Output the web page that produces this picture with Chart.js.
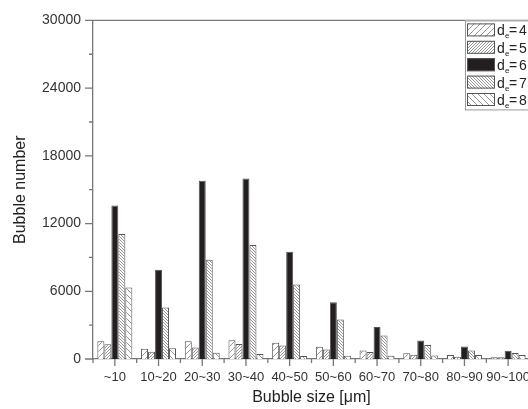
<!DOCTYPE html>
<html>
<head>
<meta charset="utf-8">
<script src="https://cdn.jsdelivr.net/npm/chart.js@4/dist/chart.umd.min.js"></script>
<style>
  html, body { margin: 0; padding: 0; background: #fff; overflow: hidden; }
  #wrap { width: 528px; height: 409px; overflow: hidden; }
</style>
</head>
<body>
<div id="wrap"><canvas id="bubbleChart" width="560" height="409"></canvas></div>
<script>
// categories and series (bubble counts per size class)
var categories = ['~10', '10~20', '20~30', '30~40', '40~50', '50~60', '60~70', '70~80', '80~90', '90~100'];
var seriesLabels = ['4', '5', '6', '7', '8'];
var de4 = [1580, 900, 1580, 1670, 1430, 1080, 760, 500, 350, 150];
var de5 = [1310, 640, 1020, 1320, 1200, 850, 610, 380, 200, 150];
var de6 = [13600, 7900, 15800, 16000, 9500, 5030, 2830, 1640, 1110, 730];
var de7 = [11080, 4560, 8800, 10100, 6600, 3500, 2080, 1250, 760, 530];
var de8 = [6340, 960, 550, 440, 260, 290, 290, 320, 350, 350];
var yTicks = [0, 6000, 12000, 18000, 24000, 30000];

function hatch(spacing, dir) {
    var c = document.createElement('canvas');
    c.width = spacing; c.height = spacing;
    var g = c.getContext('2d');
    g.fillStyle = '#fff';
    g.fillRect(0, 0, spacing, spacing);
    g.strokeStyle = '#8a8a8a';
    g.lineWidth = 0.9;
    g.beginPath();
    if (dir > 0) {
        g.moveTo(0, spacing); g.lineTo(spacing, 0);
        g.moveTo(-1, 1); g.lineTo(1, -1);
        g.moveTo(spacing - 1, spacing + 1); g.lineTo(spacing + 1, spacing - 1);
    } else {
        g.moveTo(0, 0); g.lineTo(spacing, spacing);
        g.moveTo(spacing - 1, -1); g.lineTo(spacing + 1, 1);
        g.moveTo(-1, spacing - 1); g.lineTo(1, spacing + 1);
    }
    g.stroke();
    return g.createPattern(c, 'repeat');
}

var fills = [hatch(6, 1), hatch(3, 1), '#231f20', hatch(3, -1), hatch(6, -1)];
var values = [de4, de5, de6, de7, de8];

// axis frame, tick marks and inset legend
var frameAndLegend = {
    id: 'frameAndLegend',
    afterDraw: function (chart) {
        var ctx = chart.ctx, area = chart.chartArea;
        var x = chart.scales.x, y = chart.scales.y;
        ctx.save();
        ctx.strokeStyle = '#777';
        ctx.lineWidth = 1.3;
        ctx.beginPath();
        ctx.moveTo(area.left, area.top);
        ctx.lineTo(area.right, area.top);
        y.ticks.forEach(function (t) {
            var py = y.getPixelForValue(t.value);
            var len = yTicks.indexOf(t.value) >= 0 ? 8 : 4;
            ctx.moveTo(area.left - len, py);
            ctx.lineTo(area.left, py);
        });
        var step = x.getPixelForValue(1) - x.getPixelForValue(0);
        categories.forEach(function (c, i) {
            var px = x.getPixelForValue(i);
            ctx.moveTo(px, area.bottom);
            ctx.lineTo(px, area.bottom + 7);
            ctx.moveTo(px - step / 2, area.bottom);
            ctx.lineTo(px - step / 2, area.bottom + 4);
        });
        ctx.stroke();

        // legend box
        var lx = area.right - 65, ly = area.top, rowH = 17.4;
        ctx.fillStyle = '#fff';
        ctx.fillRect(lx, ly, 120, rowH * 5 + 2);
        ctx.strokeStyle = '#999';
        ctx.lineWidth = 1;
        ctx.strokeRect(lx + 0.5, ly + 0.5, 120, rowH * 5 + 2);
        chart.data.datasets.forEach(function (ds, i) {
            var sy = ly + 3 + i * rowH;
            ctx.fillStyle = ds.backgroundColor;
            ctx.fillRect(lx + 2, sy, 28, 13);
            ctx.strokeStyle = '#555';
            ctx.strokeRect(lx + 2.5, sy + 0.5, 27, 12);
            ctx.fillStyle = '#222';
            ctx.textBaseline = 'alphabetic';
            ctx.font = '14px "Liberation Sans", Arial, sans-serif';
            ctx.fillText('d', lx + 32, sy + 12);
            ctx.font = '8px "Liberation Sans", Arial, sans-serif';
            ctx.fillText('e', lx + 40, sy + 15);
            ctx.font = '14px "Liberation Sans", Arial, sans-serif';
            ctx.fillText('=', lx + 44, sy + 12);
            ctx.fillText(seriesLabels[i] + ' mm', lx + 54, sy + 12);
        });
        ctx.restore();
    }
};

var ctx = document.getElementById('bubbleChart').getContext('2d');
new Chart(ctx, {
    type: 'bar',
    data: {
        labels: categories,
        datasets: values.map(function (v, i) {
            return {
                label: 'de = ' + seriesLabels[i],
                data: v,
                backgroundColor: fills[i],
                borderColor: '#555',
                borderWidth: 1,
                categoryPercentage: 0.8,
                barPercentage: 1.0
            };
        })
    },
    options: {
        responsive: false,
        animation: false,
        layout: { padding: { top: 17, right: 30, left: 0, bottom: 0 } },
        plugins: { legend: { display: false }, tooltip: { enabled: false } },
        scales: {
            x: {
                grid: { display: false, drawTicks: false },
                border: { color: '#777', width: 1.3 },
                ticks: { color: '#333', padding: 11, maxRotation: 0, autoSkip: false,
                    font: { family: '"Liberation Sans", Arial, sans-serif', size: 13 } },
                title: { display: true, text: 'Bubble size [\u03bcm]', color: '#222',
                    padding: { top: 0, bottom: 2 },
                    font: { family: '"Liberation Sans", Arial, sans-serif', size: 16 } },
                afterFit: function (scale) { scale.height = 50; }
            },
            y: {
                min: 0, max: 30000,
                grid: { display: false, drawTicks: false },
                border: { color: '#777', width: 1.3 },
                ticks: { stepSize: 3000, color: '#333', padding: 12,
                    font: { family: '"Liberation Sans", Arial, sans-serif', size: 14 },
                    callback: function (v) { return yTicks.indexOf(v) >= 0 ? v : ''; } },
                title: { display: true, text: 'Bubble number', color: '#222',
                    padding: { top: 11, bottom: 0 },
                    font: { family: '"Liberation Sans", Arial, sans-serif', size: 16 } },
                afterFit: function (scale) { scale.width = 93; }
            }
        }
    },
    plugins: [frameAndLegend]
});
</script>
</body>
</html>
